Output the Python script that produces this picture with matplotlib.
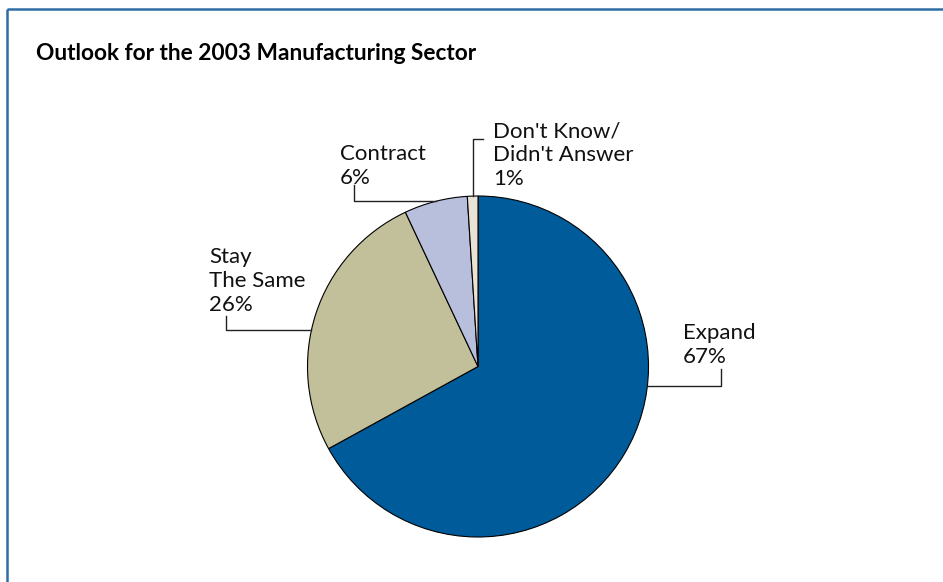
import numpy as np
import matplotlib
matplotlib.use("Agg")
import matplotlib.pyplot as plt

# 2003年製造業の見通し（回答割合）
categories = ["Expand", "Stay\nThe Same", "Contract", "Don't Know/\nDidn't Answer"]
shares = [67, 26, 6, 1]
title = "Outlook for the 2003 Manufacturing Sector"

colors = ["#005b9b", "#c2bf9b", "#b8bfdd", "#e9e3d5"]

# 画面サイズ（ピクセル）とパイの位置
W, H = 943, 582
CX, CY, R = 478, 366.5, 170.5

# ラベル配置: くさび内の引き出し位置(割合), 引き出し線の形, 折れ点, テキスト左端とベースライン
leader_frac = [0.60, 0.56, 0.5, 0.5]
leader_route = ["hv", "hv", "hv", "vh"]
leader_elbow = [(721, 369), (226, 316), (354, 185), (483, 139)]
text_pos = [(683, 339), (209, 263), (340, 160), (493, 137)]
LINE_STEP = 24

FONT = ["Lato", "DejaVu Sans"]


def py(y):
    """上端基準のピクセル座標をデータ座標に変換"""
    return H - y


fig = plt.figure(figsize=(W / 100, H / 100), dpi=100)
ax = fig.add_axes([0, 0, 1, 1])

wedges, _ = ax.pie(
    shares,
    colors=colors,
    startangle=90,
    counterclock=False,
    radius=R,
    center=(CX, py(CY)),
    wedgeprops=dict(edgecolor="black", linewidth=0.8),
)
ax.set_xlim(0, W)
ax.set_ylim(0, H)
ax.set_aspect("equal")
ax.axis("off")

# 外枠（上と左のみ）
ax.plot([7, W], [py(9), py(9)], color="#2e6da4", lw=1.8, solid_capstyle="butt")
ax.plot([7, 7], [py(9), 0], color="#2e6da4", lw=1.8, solid_capstyle="butt")

ax.text(36, py(60), title, fontsize=16.3, fontweight="bold", family=FONT,
        ha="left", va="baseline", color="black")

for w, cat, val, f, route, (ex, ey), (tx, ty) in zip(
        wedges, categories, shares, leader_frac, leader_route, leader_elbow, text_pos):
    ang = np.deg2rad(w.theta1 + f * (w.theta2 - w.theta1))
    axp = CX + R * np.cos(ang)
    ayp = CY - R * np.sin(ang)
    if route == "hv":
        xs, ys = [axp, ex, ex], [ayp, ayp, ey]
    else:
        xs, ys = [axp, axp, ex], [ayp, ey, ey]
    ax.plot(xs, [py(v) for v in ys], color="#222222", lw=1.0)

    lines = cat.split("\n") + [f"{val}%"]
    for i, line in enumerate(lines):
        ax.text(tx, py(ty + i * LINE_STEP), line, fontsize=16, family=FONT,
                ha="left", va="baseline", color="#111111")

fig.savefig("out.png", dpi=100)
